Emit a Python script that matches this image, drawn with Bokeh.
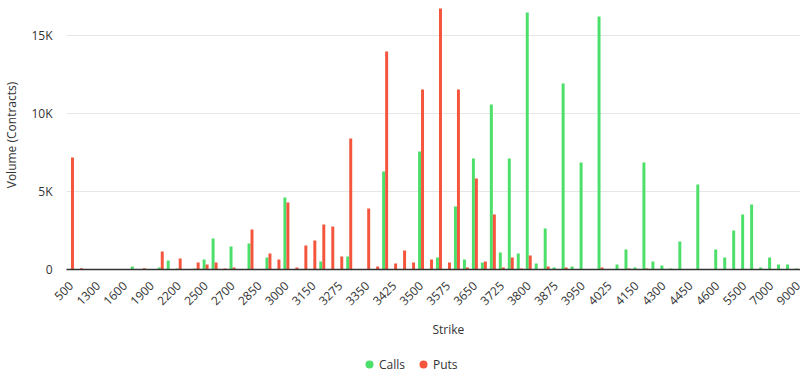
from bokeh.plotting import figure
from bokeh.layouts import column
from bokeh.models import ColumnDataSource, FixedTicker, Range1d, Legend, LegendItem, Title
from bokeh.transform import dodge
from bokeh.embed import file_html
from bokeh.resources import INLINE

strikes = [500, 1000, 1200, 1300, 1400, 1500, 1600, 1700, 1800, 1900,
           2000, 2100, 2200, 2300, 2400, 2500, 2600, 2650, 2700, 2750,
           2800, 2850, 2900, 2950, 3000, 3050, 3100, 3150, 3200, 3250,
           3275, 3300, 3325, 3350, 3375, 3400, 3425, 3450, 3475, 3500,
           3525, 3550, 3575, 3600, 3625, 3650, 3675, 3700, 3725, 3750,
           3775, 3800, 3825, 3850, 3875, 3900, 3925, 3950, 3975, 4000,
           4025, 4050, 4100, 4150, 4200, 4250, 4300, 4350, 4400, 4450,
           4500, 4550, 4600, 4800, 5000, 5500, 6000, 6500, 7000, 7500,
           8000, 9000]

calls = [0, 0, 0, 0, 0, 0, 0, 190, 0, 0,
         130, 580, 60, 0, 60, 640, 1990, 0, 1480, 0,
         1670, 0, 770, 0, 4620, 0, 0, 0, 510, 0,
         0, 830, 0, 0, 0, 6290, 0, 0, 0, 7570,
         0, 770, 0, 4040, 640, 7120, 450, 10590, 1090, 7120,
         1030, 16500, 390, 2630, 130, 11940, 190, 6870, 0, 16240,
         0, 320, 1280, 130, 6870, 510, 260, 60, 1800, 0,
         5460, 0, 1280, 770, 2500, 3530, 4170, 130, 770, 320,
         320, 60]

puts = [7190, 80, 0, 0, 0, 0, 0, 0, 80, 0,
        1160, 0, 710, 0, 450, 320, 450, 60, 130, 0,
        2570, 0, 1030, 640, 4300, 130, 1540, 1860, 2890, 2760,
        830, 8410, 0, 3920, 190, 13990, 390, 1220, 450, 11550,
        640, 16750, 450, 11550, 130, 5840, 510, 3530, 130, 770,
        60, 900, 0, 190, 0, 130, 0, 0, 0, 130,
        0, 0, 60, 0, 60, 0, 0, 0, 0, 0,
        0, 0, 0, 0, 0, 0, 0, 0, 0, 0,
        0, 0]

y_ticks = [0, 5000, 10000, 15000]
y_tick_labels = ["0", "5K", "10K", "15K"]
series_names = ["Calls", "Puts"]
x_title = "Strike"
y_title = "Volume (Contracts)"

GREEN = "#4cdf6a"
RED = "#f4553c"
FONT = "Open Sans"
TXT = "#333333"

idx = list(range(len(strikes)))
src = ColumnDataSource(dict(x=idx, calls=calls, puts=puts,
                            strike=[str(s) for s in strikes]))

p = figure(frame_width=736, frame_height=269,
           x_range=Range1d(-0.5, 81.5), y_range=Range1d(0, 17266),
           output_backend="svg", toolbar_location=None,
           min_border_left=64, min_border_right=0, min_border_top=0,
           min_border_bottom=87)
p.outline_line_color = None
p.background_fill_color = "white"

bw = 0.33
p.vbar(x=dodge("x", -0.167, range=p.x_range), top="calls", width=bw,
       source=src, fill_color=GREEN, line_color=None)
p.vbar(x=dodge("x", 0.167, range=p.x_range), top="puts", width=bw,
       source=src, fill_color=RED, line_color=None)

# x axis
p.xaxis.ticker = FixedTicker(ticks=idx[::3])
p.xaxis.major_label_overrides = {i: str(strikes[i]) for i in idx[::3]}
p.xaxis.major_label_orientation = 0.785398
p.xaxis.major_tick_line_color = None
p.xaxis.major_tick_out = 0
p.xaxis.major_tick_in = 0
p.xaxis.minor_tick_line_color = None
p.xaxis.axis_line_color = "#333333"
p.xaxis.axis_line_width = 1.5
p.xaxis.major_label_text_font = FONT
p.xaxis.major_label_text_font_size = "12px"
p.xaxis.major_label_text_color = TXT
p.xaxis.major_label_standoff = 14
p.xgrid.grid_line_color = None

xt = Title(text=x_title, align="left", offset=366, standoff=12,
           text_font=FONT, text_font_size="12px", text_font_style="normal",
           text_color=TXT)
p.add_layout(xt, "below")

# y axis
p.yaxis.ticker = FixedTicker(ticks=y_ticks)
p.yaxis.major_label_overrides = dict(zip(y_ticks, y_tick_labels))
p.yaxis.axis_line_color = None
p.yaxis.major_tick_line_color = None
p.yaxis.major_tick_out = 0
p.yaxis.major_tick_in = 0
p.yaxis.minor_tick_line_color = None
p.yaxis.major_label_text_font = FONT
p.yaxis.major_label_text_font_size = "12px"
p.yaxis.major_label_text_color = TXT
p.yaxis.major_label_standoff = 14
p.yaxis.axis_label = y_title
p.yaxis.axis_label_text_font = FONT
p.yaxis.axis_label_text_font_size = "12px"
p.yaxis.axis_label_text_font_style = "normal"
p.yaxis.axis_label_text_color = TXT
p.yaxis.axis_label_standoff = 8
p.ygrid.grid_line_color = "#e6e6e6"
p.ygrid.grid_line_width = 1

# legend strip below the chart (its frame aligns with the chart's frame)
pl = figure(width=800, height=23, x_range=Range1d(0, 1), y_range=Range1d(0, 1),
            output_backend="svg", toolbar_location=None,
            x_axis_location=None, y_axis_location=None,
            min_border_left=0, min_border_right=0, min_border_top=0,
            min_border_bottom=0)
pl.outline_line_color = None
pl.grid.visible = False
nan = float("nan")
lc = pl.scatter(x=[nan], y=[nan], marker="circle", size=10,
                fill_color=GREEN, line_color=None)
lp = pl.scatter(x=[nan], y=[nan], marker="circle", size=10,
                fill_color=RED, line_color=None)

legend = Legend(items=[LegendItem(label=series_names[0], renderers=[lc]),
                       LegendItem(label=series_names[1], renderers=[lp])],
                orientation="horizontal", location=(293, 5))
legend.label_text_font = FONT
legend.label_text_font_size = "12px"
legend.label_text_color = TXT
legend.glyph_width = 20
legend.glyph_height = 20
legend.label_height = 16
legend.spacing = 8
legend.label_standoff = 0
legend.border_line_color = None
legend.background_fill_alpha = 0
legend.padding = 0
legend.margin = 0
pl.add_layout(legend)

layout = column(p, pl, spacing=0)
open("out.html", "w").write(file_html(layout, INLINE))
